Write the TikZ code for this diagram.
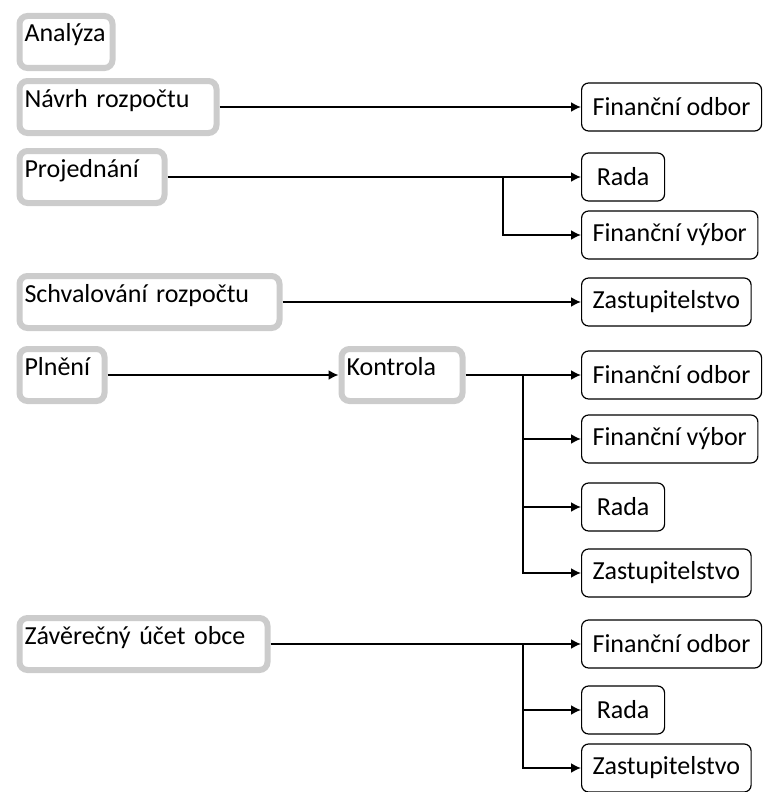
\documentclass[tikz,border=0pt]{standalone}
\usepackage{fontspec}
\setmainfont{Carlito}
\usetikzlibrary{arrows.meta,shadows}
\begin{document}
\begin{tikzpicture}[x=1pt,y=-1pt,
  stage/.style={draw=black!20, line width=6pt, rounded corners=8pt, fill=white,
    anchor=west, align=left, text width=#1, inner xsep=5pt, inner ysep=3pt,
    text height=23pt, text depth=23pt, font=\fontsize{26}{30}\selectfont,
    drop shadow={opacity=0.2, shadow xshift=1pt, shadow yshift=-2pt}},
  role/.style={draw, line width=1.2pt, rounded corners=7pt, fill=white,
    anchor=west, inner xsep=11pt, minimum height=48pt,
    font=\fontsize{26}{30}\selectfont},
  link/.style={line width=1.8pt, -{Latex[length=10pt,width=10pt]}}]
\useasboundingbox (0,0) rectangle (766,792);
% stages
\node[stage=83] (analyza) at (16.5,42) {Analýza};
\node[stage=187] (navrh) at (16.5,107) {Návrh rozpočtu};
\node[stage=135] (projednani) at (16.5,177) {Projednání};
\node[stage=250] (schvalovani) at (16.5,302) {Schvalování rozpočtu};
\node[stage=75] (plneni) at (16.5,375) {Plnění};
\node[stage=111] (kontrola) at (338.5,375) {Kontrola};
\node[stage=238] (zaverecny) at (16.5,644) {Závěrečný účet obce};
% bodies
\node[role] (odbor1) at (581,107) {Finanční odbor};
\node[role, minimum width=83pt] (rada1) at (581,177) {Rada};
\node[role] (vybor1) at (581,235) {Finanční výbor};
\node[role] (zast1) at (581,302) {Zastupitelstvo};
\node[role] (odbor2) at (581,375) {Finanční odbor};
\node[role] (vybor2) at (581,439) {Finanční výbor};
\node[role, minimum width=83pt] (rada2) at (581,507) {Rada};
\node[role] (zast2) at (581,573) {Zastupitelstvo};
\node[role] (odbor3) at (581,644) {Finanční odbor};
\node[role, minimum width=83pt] (rada3) at (581,710) {Rada};
\node[role] (zast3) at (581,768) {Zastupitelstvo};
% splits
\coordinate (split1) at (503,177);
\coordinate (split2) at (523,375);
\coordinate (split3) at (523,644);
% links
\draw[link] (navrh.east) -- (odbor1.west);
\draw[link] (projednani.east) -- (rada1.west);
\draw[link] (split1) |- (vybor1.west);
\draw[link] (schvalovani.east) -- (zast1.west);
\draw[link] (plneni.east) -- (kontrola.west);
\draw[link] (kontrola.east) -- (odbor2.west);
\draw[link] (split2) |- (vybor2.west);
\draw[link] (split2) |- (rada2.west);
\draw[link] (split2) |- (zast2.west);
\draw[link] (zaverecny.east) -- (odbor3.west);
\draw[link] (split3) |- (rada3.west);
\draw[link] (split3) |- (zast3.west);
\end{tikzpicture}
\end{document}
